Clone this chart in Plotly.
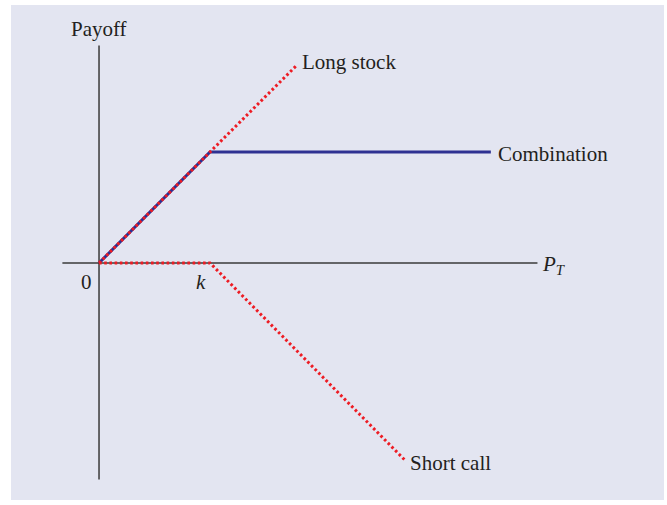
import plotly.graph_objects as go

# payoff at expiry, strike k = 1
k = 1.0
stock_x = [0, k, 1.78]
stock_y = [0, k, 1.78]
combo_x = [0, k, 3.53]
combo_y = [0, k, k]
call_x = [0, k, 2.76]
call_y = [0, 0, -1.78]

axis_x = [-0.33, 3.95]
axis_y = [-1.95, 1.96]

ink = "#231f20"
red = "#ed1c24"
blue = "#2e3192"
font = "Liberation Serif"

fig = go.Figure()
# axes
fig.add_trace(go.Scatter(x=axis_x, y=[0, 0], mode="lines", line=dict(color="#3a3a3a", width=1.5), hoverinfo="skip"))
fig.add_trace(go.Scatter(x=[0, 0], y=axis_y, mode="lines", line=dict(color="#3a3a3a", width=1.5), hoverinfo="skip"))
# combination underneath the dotted lines
fig.add_trace(go.Scatter(x=combo_x, y=combo_y, mode="lines", line=dict(color=blue, width=3)))
fig.add_trace(go.Scatter(x=stock_x, y=stock_y, mode="lines", line=dict(color=red, width=3, dash="2.6px,2.6px")))
fig.add_trace(go.Scatter(x=call_x, y=call_y, mode="lines", line=dict(color=red, width=3, dash="2.6px,2.6px")))

labels = [
    (stock_x[-1] + 0.03, stock_y[-1] + 0.03, "Long stock", "left"),
    (combo_x[-1] + 0.05, combo_y[-1] - 0.02, "Combination", "left"),
    (call_x[-1] + 0.025, call_y[-1] - 0.02, "Short call", "left"),
    (axis_x[1] + 0.02, -0.02, "<i>P</i><sub><i>T</i></sub>", "left"),
    (0, axis_y[1] + 0.15, "Payoff", "center"),
    (-0.11, -0.17, "0", "center"),
    (k - 0.08, -0.17, "<i>k</i>", "center"),
]
for x, y, t, xa in labels:
    fig.add_annotation(x=x, y=y, text=t, showarrow=False, xanchor=xa, yanchor="middle",
                       font=dict(family=font, size=21, color=ink))

fig.update_layout(
    width=667, height=505,
    margin=dict(l=11, r=3, t=5, b=5),
    paper_bgcolor="white", plot_bgcolor="#e3e5f1",
    showlegend=False,
    xaxis=dict(range=[-0.793, 5.09], visible=False, showgrid=False, zeroline=False),
    yaxis=dict(range=[-2.135, 2.324], visible=False, showgrid=False, zeroline=False),
)
fig.write_html("out.html", config={"displayModeBar": False},
               post_script="document.body.style.margin='0';")
